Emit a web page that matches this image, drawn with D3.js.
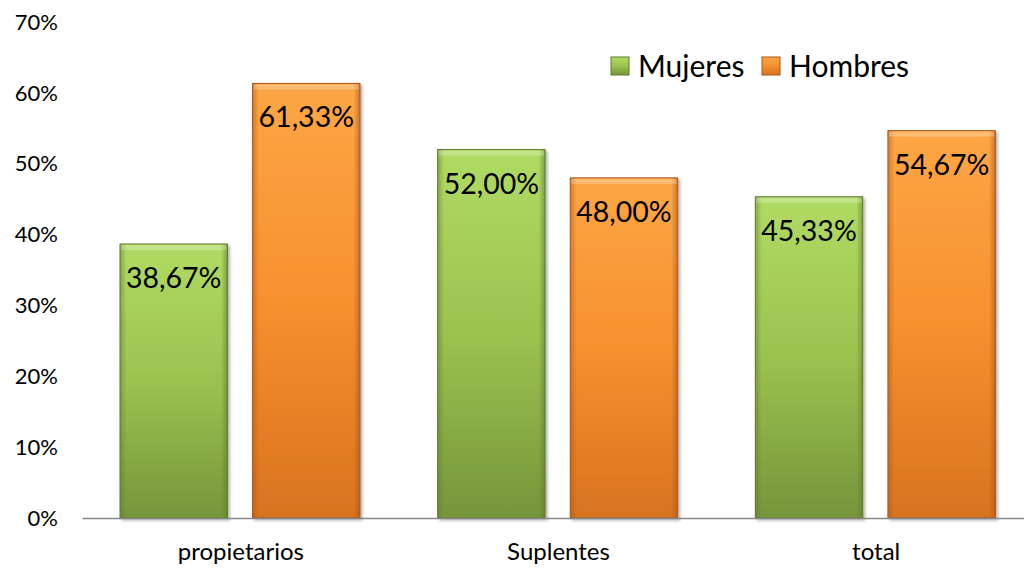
<!DOCTYPE html>
<html>
<head>
<meta charset="utf-8">
<script src="https://cdn.jsdelivr.net/npm/d3@7"></script>
<style>
  body { margin: 0; background: #fff; }
  svg { display: block; font-family: Lato, "Open Sans", sans-serif; }
</style>
</head>
<body>
<svg width="1024" height="568"></svg>
<script>
let categories = ['propietarios', 'Suplentes', 'total'];
let seriesNames = ['Mujeres', 'Hombres'];
let mujeres = [38.67, 52.00, 45.33];
let hombres = [61.33, 48.00, 54.67];
let yTicks = [0, 10, 20, 30, 40, 50, 60, 70];

let svg = d3.select('svg'),
    width = +svg.attr('width'),
    height = +svg.attr('height');

let x = d3.scaleBand().domain(categories).range([82, 1035]);
let xs = d3.scaleBand().domain(seriesNames).range([38, 278]).paddingInner(0.19);
let y = d3.scaleLinear().domain([0, 70]).range([518, 22]);

let colors = {
    Mujeres: { top: '#b0db63', mid: '#9cc24f', bottom: '#76953a', edge: '#5f7a2c' },
    Hombres: { top: '#fda645', mid: '#f7902f', bottom: '#d8731f', edge: '#a9561a' }
};

let defs = svg.append('defs');
seriesNames.forEach(function (s) {
    let g = defs.append('linearGradient')
        .attr('id', 'grad-' + s).attr('x1', 0).attr('y1', 0).attr('x2', 0).attr('y2', 1);
    g.append('stop').attr('offset', '0%').attr('stop-color', colors[s].top);
    g.append('stop').attr('offset', '50%').attr('stop-color', colors[s].mid);
    g.append('stop').attr('offset', '100%').attr('stop-color', colors[s].bottom);
    let h = defs.append('linearGradient')
        .attr('id', 'side-' + s).attr('x1', 0).attr('y1', 0).attr('x2', 1).attr('y2', 0);
    h.append('stop').attr('offset', '0%').attr('stop-color', colors[s].edge).attr('stop-opacity', 0.5);
    h.append('stop').attr('offset', '6%').attr('stop-color', colors[s].edge).attr('stop-opacity', 0);
    h.append('stop').attr('offset', '94%').attr('stop-color', colors[s].edge).attr('stop-opacity', 0);
    h.append('stop').attr('offset', '100%').attr('stop-color', colors[s].edge).attr('stop-opacity', 0.6);
});
let shadow = defs.append('filter').attr('id', 'shadow').attr('x', '-10%').attr('y', '-10%').attr('width', '130%').attr('height', '130%');
shadow.append('feDropShadow').attr('dx', 2).attr('dy', 2).attr('stdDeviation', 1.5).attr('flood-color', '#000').attr('flood-opacity', 0.3);

// y axis labels
svg.append('g').selectAll('text')
    .data(yTicks)
    .enter().append('text')
    .attr('x', 58)
    .attr('y', d => y(d))
    .attr('dy', '0.35em')
    .attr('text-anchor', 'end')
    .style('font-size', '22px')
    .style('fill', '#000')
    .text(d => d + '%');

let rows = [];
categories.forEach(function (c, i) {
    rows.push({ cat: c, series: 'Mujeres', value: mujeres[i] });
    rows.push({ cat: c, series: 'Hombres', value: hombres[i] });
});

let bars = svg.append('g').selectAll('g')
    .data(rows)
    .enter().append('g')
    .attr('transform', d => 'translate(' + (x(d.cat) + xs(d.series)) + ',0)');

bars.append('rect')
    .attr('y', d => y(d.value))
    .attr('width', xs.bandwidth())
    .attr('height', d => y(0) - y(d.value))
    .attr('fill', d => 'url(#grad-' + d.series + ')')
    .attr('stroke', d => colors[d.series].edge)
    .attr('stroke-width', 1)
    .attr('filter', 'url(#shadow)');

bars.append('rect')
    .attr('y', d => y(d.value))
    .attr('width', xs.bandwidth())
    .attr('height', d => y(0) - y(d.value))
    .attr('fill', d => 'url(#side-' + d.series + ')');

// top bevel highlight
bars.append('rect')
    .attr('x', 1)
    .attr('y', d => y(d.value) + 1)
    .attr('width', xs.bandwidth() - 2)
    .attr('height', 5)
    .attr('fill', '#fff')
    .attr('opacity', 0.25);

bars.append('text')
    .attr('x', xs.bandwidth() / 2)
    .attr('y', d => y(d.value) + 34)
    .attr('dy', '0.35em')
    .attr('text-anchor', 'middle')
    .style('font-size', '28.5px')
    .style('fill', '#000')
    .text(d => d.value.toFixed(2).replace('.', ',') + '%');

// x axis
let xAxis = svg.append('g')
    .attr('transform', 'translate(0,' + y(0) + ')')
    .call(d3.axisBottom(x).tickSize(0).tickPadding(25));
xAxis.select('.domain').attr('stroke', '#888').attr('stroke-width', 1.5);
xAxis.selectAll('text')
    .style('font-family', 'Lato, "Open Sans", sans-serif')
    .style('font-size', '24px')
    .style('fill', '#000');

// legend
let legendX = [611, 762];
let legend = svg.append('g').selectAll('g')
    .data(seriesNames)
    .enter().append('g')
    .attr('transform', (d, i) => 'translate(' + legendX[i] + ',57)');
legend.append('rect')
    .attr('width', 18).attr('height', 18)
    .attr('fill', d => 'url(#grad-' + d + ')')
    .attr('stroke', d => colors[d].edge);
legend.append('text')
    .attr('x', 27)
    .attr('y', 9)
    .attr('dy', '0.35em')
    .style('font-size', '30px')
    .style('fill', '#000')
    .text(d => d);
</script>
</body>
</html>
